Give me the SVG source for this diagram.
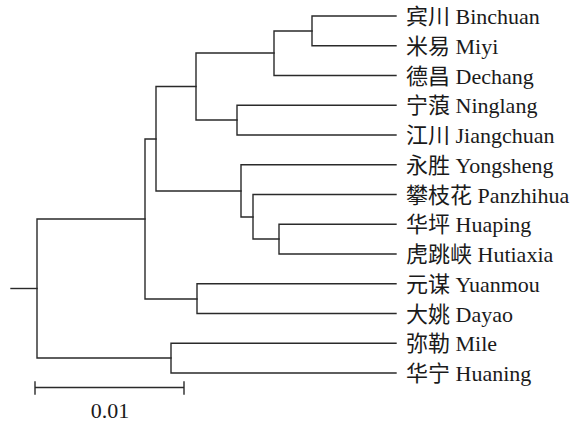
<svg xmlns="http://www.w3.org/2000/svg" width="584" height="425" viewBox="0 0 584 425">
<style>
.br{fill:none;stroke:#2a2a2a;stroke-width:1.4;stroke-linejoin:miter;stroke-linecap:square}
.lb{font-family:"Liberation Serif","Noto Sans CJK SC",serif;font-size:22px;fill:#1a1a1a}
</style>
<rect width="584" height="425" fill="#fff"/>
<g id="connectors" class="br">
<path d="M396 16 H312 V45.75 H396"/>
<path d="M312 31 H274 V75.5 H396"/>
<path d="M274 53 H196 V120 H237"/>
<path d="M396 105.25 H237 V135 H396"/>
<path d="M196 86.5 H156 V191 H241"/>
<path d="M396 164.75 H241 V217 H253"/>
<path d="M396 194.5 H253 V239 H279"/>
<path d="M396 224.25 H279 V254 H396"/>
<path d="M156 139 H145 V299 H197"/>
<path d="M396 283.75 H197 V313.5 H396"/>
<path d="M145 219 H37 V358 H171"/>
<path d="M396 343.25 H171 V373 H396"/>
<path d="M11 288.5 H37"/>
</g>
<g id="leaf-binchuan"><text class="lb" x="406" y="24">宾川 Binchuan</text></g>
<g id="leaf-miyi"><text class="lb" x="406" y="53.75">米易 Miyi</text></g>
<g id="leaf-dechang"><text class="lb" x="406" y="83.5">德昌 Dechang</text></g>
<g id="leaf-ninglang"><text class="lb" x="406" y="113.25">宁蒗 Ninglang</text></g>
<g id="leaf-jiangchuan"><text class="lb" x="406" y="143">江川 Jiangchuan</text></g>
<g id="leaf-yongsheng"><text class="lb" x="406" y="172.75">永胜 Yongsheng</text></g>
<g id="leaf-panzhihua"><text class="lb" x="406" y="202.5">攀枝花 Panzhihua</text></g>
<g id="leaf-huaping"><text class="lb" x="406" y="232.25">华坪 Huaping</text></g>
<g id="leaf-hutiaxia"><text class="lb" x="406" y="262">虎跳峡 Hutiaxia</text></g>
<g id="leaf-yuanmou"><text class="lb" x="406" y="291.75">元谋 Yuanmou</text></g>
<g id="leaf-dayao"><text class="lb" x="406" y="321.5">大姚 Dayao</text></g>
<g id="leaf-mile"><text class="lb" x="406" y="351.25">弥勒 Mile</text></g>
<g id="leaf-huaning"><text class="lb" x="406" y="381">华宁 Huaning</text></g>
<g id="scale-bar">
<path class="br" d="M35 387.5 H184 M35 382 V394 M184 382 V394"/>
<text class="lb" x="110" y="418" text-anchor="middle">0.01</text>
</g>
</svg>
